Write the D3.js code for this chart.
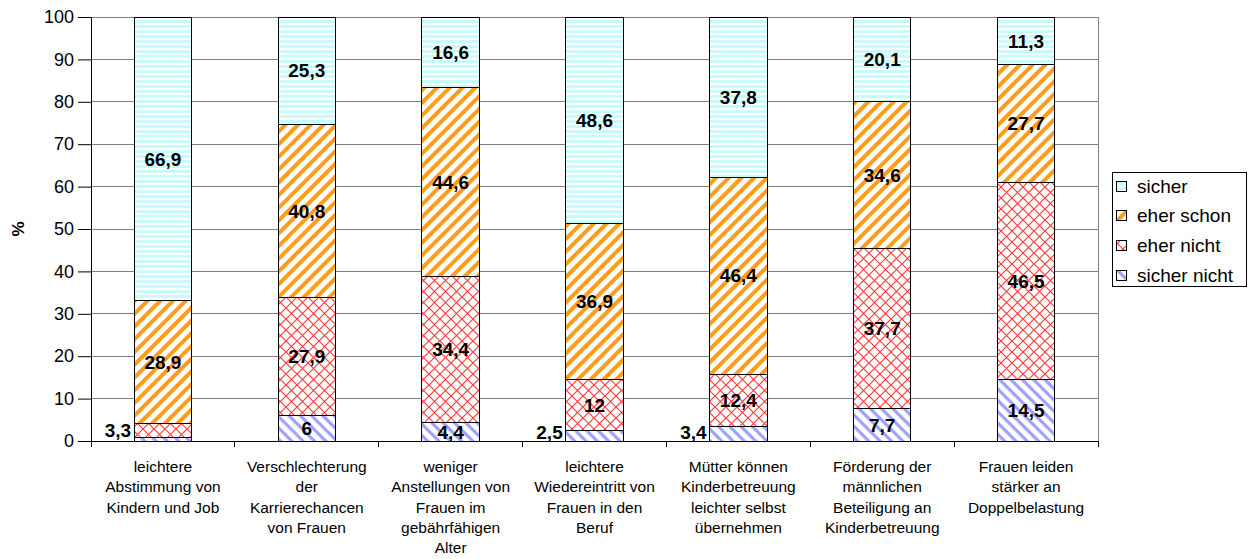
<!DOCTYPE html>
<html>
<head>
<meta charset="utf-8">
<script src="https://cdn.jsdelivr.net/npm/d3@7"></script>
<style>
  body { margin: 0; background: #fff; }
  svg { display: block; font-family: 'Liberation Sans', Arial, sans-serif; }
</style>
</head>
<body>
<div id="chart"></div>
<script>
// categories (line breaks as in the original chart)
var categories = [
  'leichtere\nAbstimmung von\nKindern und Job',
  'Verschlechterung\nder\nKarrierechancen\nvon Frauen',
  'weniger\nAnstellungen von\nFrauen im\ngebährfähigen\nAlter',
  'leichtere\nWiedereintritt von\nFrauen in den\nBeruf',
  'Mütter können\nKinderbetreuung\nleichter selbst\nübernehmen',
  'Förderung der\nmännlichen\nBeteiligung an\nKinderbetreuung',
  'Frauen leiden\nstärker an\nDoppelbelastung'
]
var sicherNicht = [0.9, 6, 4.4, 2.5, 3.4, 7.7, 14.5]
var eherNicht = [3.3, 27.9, 34.4, 12, 12.4, 37.7, 46.5]
var eherSchon = [28.9, 40.8, 44.6, 36.9, 46.4, 34.6, 27.7]
var sicher = [66.9, 25.3, 16.6, 48.6, 37.8, 20.1, 11.3]
var seriesNames = ['sicher nicht', 'eher nicht', 'eher schon', 'sicher']
var yTicks = [0, 10, 20, 30, 40, 50, 60, 70, 80, 90, 100]

var W = 1248
var H = 559
var plotLeft = 91
var plotRight = 1098
var plotTop = 17
var plotBottom = 441

var rows = categories.map(function (c, i) {
  return {
    cat: c,
    'sicher nicht': sicherNicht[i],
    'eher nicht': eherNicht[i],
    'eher schon': eherSchon[i],
    'sicher': sicher[i]
  }
})

var svg = d3.select('#chart').append('svg')
  .attr('width', W)
  .attr('height', H)

// patterns
var defs = svg.append('defs')
var fills = {}

function stripes (id, color, size, thick, angle) {
  var p = defs.append('pattern')
    .attr('id', id)
    .attr('patternUnits', 'userSpaceOnUse')
    .attr('width', size)
    .attr('height', size)
    .attr('patternTransform', 'rotate(' + angle + ')')
  p.append('rect').attr('width', size).attr('height', size).attr('fill', '#fff')
  p.append('rect').attr('width', size).attr('height', thick).attr('fill', color)
  return 'url(#' + id + ')'
}

fills['sicher'] = stripes('p-sicher', '#c8fcfc', 5, 3, 0)
fills['eher schon'] = stripes('p-schon', '#ff9c1a', 9, 4, -45)
fills['sicher nicht'] = stripes('p-snicht', '#a0a0ff', 8, 3.2, 45)

var cross = defs.append('pattern')
  .attr('id', 'p-enicht')
  .attr('patternUnits', 'userSpaceOnUse')
  .attr('width', 11)
  .attr('height', 11)
cross.append('rect').attr('width', 11).attr('height', 11).attr('fill', '#fff')
cross.append('path')
  .attr('d', 'M0,0L11,11M11,0L0,11')
  .attr('stroke', '#ff3a3a')
  .attr('stroke-width', 1.2)
  .attr('fill', 'none')
fills['eher nicht'] = 'url(#p-enicht)'

var x = d3.scaleBand()
  .domain(categories)
  .range([plotLeft, plotRight])
  .paddingInner(0.6)
  .paddingOuter(0.3)

var y = d3.scaleLinear().domain([0, 100]).range([plotBottom, plotTop])

// gridlines
svg.append('g')
  .selectAll('line')
  .data(yTicks.filter(function (d) { return d > 0 }))
  .enter().append('line')
  .attr('x1', plotLeft)
  .attr('x2', plotRight)
  .attr('y1', function (d) { return y(d) })
  .attr('y2', function (d) { return y(d) })
  .attr('stroke', '#808080')
  .attr('stroke-width', 1)
  .attr('shape-rendering', 'crispEdges')

// right border of plot area
svg.append('line')
  .attr('x1', plotRight).attr('x2', plotRight)
  .attr('y1', plotTop).attr('y2', plotBottom)
  .attr('stroke', '#808080')
  .attr('shape-rendering', 'crispEdges')

// bars
var stack = d3.stack().keys(seriesNames)
var layers = stack(rows)

var g = svg.append('g')
layers.forEach(function (layer) {
  g.selectAll(null)
    .data(layer)
    .enter().append('rect')
    .attr('x', function (d) { return x(d.data.cat) })
    .attr('width', x.bandwidth())
    .attr('y', function (d) { return y(Math.min(d[1], 100)) })
    .attr('height', function (d) { return y(d[0]) - y(Math.min(d[1], 100)) })
    .attr('fill', fills[layer.key])
    .attr('stroke', '#000')
    .attr('stroke-width', 1)
    .attr('shape-rendering', 'crispEdges')
})

// value labels
layers.forEach(function (layer) {
  layer.forEach(function (d) {
    var v = d.data[layer.key]
    if (v < 1) return
    var outside = v < 4
    var cy = y((d[0] + Math.min(d[1], 100)) / 2)
    if (outside) cy = Math.min(cy, plotBottom - 9)
    svg.append('text')
      .text(String(v).replace('.', ','))
      .attr('x', outside ? x(d.data.cat) - 3 : x(d.data.cat) + x.bandwidth() / 2)
      .attr('y', cy)
      .attr('dy', '0.36em')
      .attr('text-anchor', outside ? 'end' : 'middle')
      .style('font-size', '19px')
      .style('font-weight', 'bold')
  })
})

// y axis
var yAxis = svg.append('g')
  .attr('transform', 'translate(' + plotLeft + ',0)')
  .call(d3.axisLeft(y).tickValues(yTicks).tickSize(13).tickPadding(4))
yAxis.select('.domain').attr('stroke', '#000')
yAxis.selectAll('.tick line').attr('stroke', '#000')
yAxis.selectAll('text').style('font-size', '18px').attr('fill', '#000')
  .style('font-family', "'Liberation Sans', Arial, sans-serif")

// x axis with ticks between categories
var bounds = categories.map(function (c) { return x(c) - x.step() * x.paddingInner() / 2 }).concat([plotRight])
bounds[0] = plotLeft
svg.append('line')
  .attr('x1', plotLeft).attr('x2', plotRight)
  .attr('y1', plotBottom).attr('y2', plotBottom)
  .attr('stroke', '#000')
  .attr('shape-rendering', 'crispEdges')
svg.append('g').selectAll('line')
  .data(bounds)
  .enter().append('line')
  .attr('x1', function (d) { return d })
  .attr('x2', function (d) { return d })
  .attr('y1', plotBottom)
  .attr('y2', plotBottom + 6)
  .attr('stroke', '#000')
  .attr('shape-rendering', 'crispEdges')

// category labels
categories.forEach(function (c) {
  var t = svg.append('text')
    .attr('text-anchor', 'middle')
    .style('font-size', '15.5px')
  c.split('\n').forEach(function (line, i) {
    t.append('tspan')
      .attr('x', x(c) + x.bandwidth() / 2)
      .attr('y', 472 + i * 20.3)
      .text(line)
  })
})

// y label
svg.append('text')
  .text('%')
  .attr('transform', 'translate(24,' + ((plotTop + plotBottom) / 2) + ') rotate(-90)')
  .attr('text-anchor', 'middle')
  .style('font-size', '17px')
  .style('font-weight', 'bold')

// legend
var leg = svg.append('g').attr('transform', 'translate(1112,172)')
leg.append('rect')
  .attr('width', 134)
  .attr('height', 114)
  .attr('fill', '#fff')
  .attr('stroke', '#000')
  .attr('shape-rendering', 'crispEdges')
seriesNames.slice().reverse().forEach(function (name, i) {
  var ly = 14 + i * 29.7
  leg.append('rect')
    .attr('x', 4)
    .attr('y', ly - 5)
    .attr('width', 10)
    .attr('height', 10)
    .attr('fill', fills[name])
    .attr('stroke', '#000')
    .attr('shape-rendering', 'crispEdges')
  leg.append('text')
    .text(name)
    .attr('x', 25)
    .attr('y', ly)
    .attr('dy', '0.35em')
    .style('font-size', '19px')
})
</script>
</body>
</html>
